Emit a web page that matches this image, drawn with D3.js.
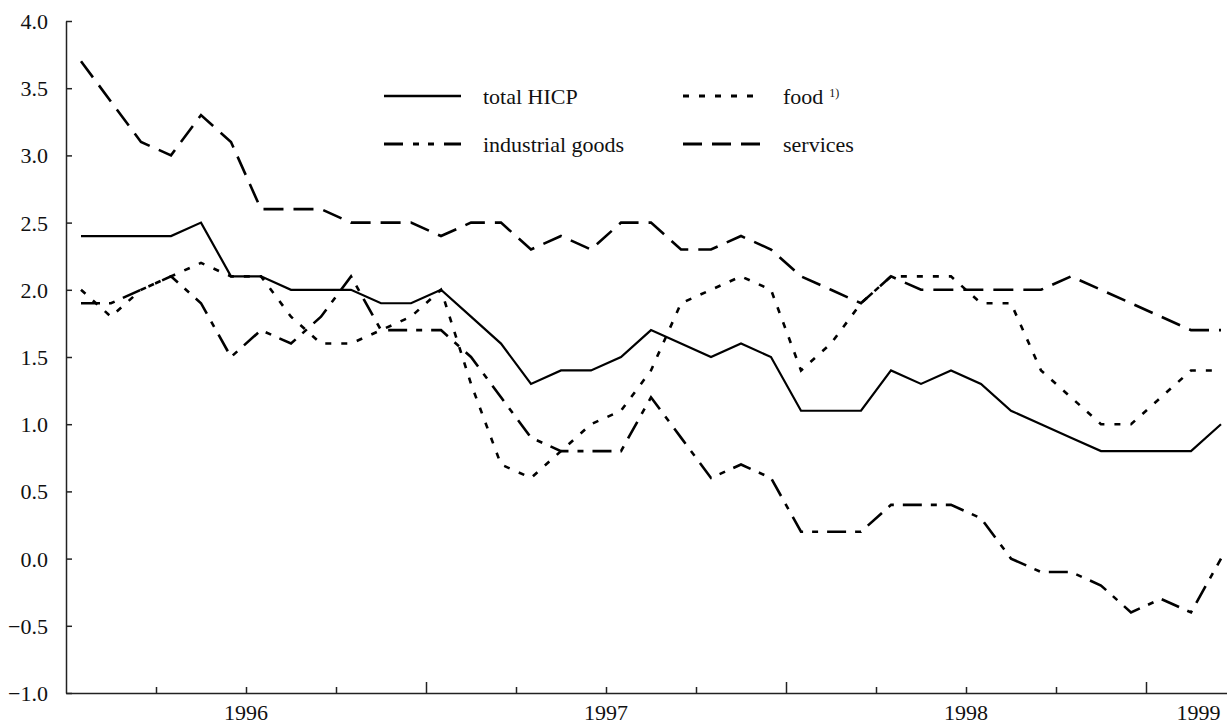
<!DOCTYPE html>
<html>
<head>
<meta charset="utf-8">
<script src="https://cdn.jsdelivr.net/npm/d3@7"></script>
<style>
  body { margin: 0; background: #fff; }
  svg { display: block; }
</style>
</head>
<body>
<div id="chart"></div>
<script>
// HICP components, annual % change, monthly Jan 1996 - Mar 1999
var totalHICP = [2.4,2.4,2.4,2.4,2.5,2.1,2.1,2.0,2.0,2.0,1.9,1.9,
                 2.0,1.8,1.6,1.3,1.4,1.4,1.5,1.7,1.6,1.5,1.6,1.5,
                 1.1,1.1,1.1,1.4,1.3,1.4,1.3,1.1,1.0,0.9,0.8,0.8,
                 0.8,0.8,1.0];
var food = [2.0,1.8,2.0,2.1,2.2,2.1,2.1,1.8,1.6,1.6,1.7,1.8,
            2.0,1.3,0.7,0.6,0.8,1.0,1.1,1.4,1.9,2.0,2.1,2.0,
            1.4,1.6,1.9,2.1,2.1,2.1,1.9,1.9,1.4,1.2,1.0,1.0,
            1.2,1.4,1.4];
var industrialGoods = [1.9,1.9,2.0,2.1,1.9,1.5,1.7,1.6,1.8,2.1,1.7,1.7,
                       1.7,1.5,1.2,0.9,0.8,0.8,0.8,1.2,0.9,0.6,0.7,0.6,
                       0.2,0.2,0.2,0.4,0.4,0.4,0.3,0.0,-0.1,-0.1,-0.2,-0.4,
                       -0.3,-0.4,0.0];
var services = [3.7,3.4,3.1,3.0,3.3,3.1,2.6,2.6,2.6,2.5,2.5,2.5,
                2.4,2.5,2.5,2.3,2.4,2.3,2.5,2.5,2.3,2.3,2.4,2.3,
                2.1,2.0,1.9,2.1,2.0,2.0,2.0,2.0,2.0,2.1,2.0,1.9,
                1.8,1.7,1.7];

var yearLabels = ["1996","1997","1998","1999"];
var yearLabelMonth = [6, 18, 30, 37.75];     // position, in months from Jan 1996
var yTickValues = [-1.0,-0.5,0.0,0.5,1.0,1.5,2.0,2.5,3.0,3.5,4.0];

var serif = "'Liberation Serif', 'Times New Roman', Times, serif";
var width = 1227, height = 726;
var axisX = 66, axisTop = 21, axisBottom = 693;
var nMonths = 39;

var svg = d3.select("#chart").append("svg")
   .attr("width", width).attr("height", height);

// scales: one slot of 30px per month, points drawn mid-month
var x = d3.scaleLinear().domain([0, nMonths]).range([axisX, axisX + nMonths * 30]);
var y = d3.scaleLinear().domain([-1, 4]).range([axisBottom, axisTop]);

// y axis, ticks pointing inward
var yAxis = d3.axisLeft(y).tickValues(yTickValues)
   .tickSizeInner(-6).tickSizeOuter(0).tickPadding(18)
   .tickFormat(d3.format(".1f"));
var gy = svg.append("g").attr("transform", "translate(" + axisX + ",0)").call(yAxis);
gy.attr("font-family", serif).attr("font-size", 22);
gy.selectAll("path, line").attr("stroke", "#222").attr("stroke-width", 1.5);
gy.selectAll("text").attr("fill", "#111").attr("dy", "0.34em");

// x axis: quarter ticks, taller ticks at year ends
var minorTicks = d3.range(3, nMonths, 3).filter(function(m){ return m % 12 != 0; });
var majorTicks = d3.range(12, nMonths, 12);
var gx = svg.append("g").attr("transform", "translate(0," + axisBottom + ")");
gx.call(d3.axisBottom(x).tickValues(minorTicks).tickSizeInner(-6).tickSizeOuter(0).tickFormat(""));
gx.append("g").call(d3.axisBottom(x).tickValues(majorTicks).tickSizeInner(-11).tickSizeOuter(0).tickFormat(""))
   .select(".domain").remove();
gx.selectAll("path, line").attr("stroke", "#222").attr("stroke-width", 1.5);

svg.selectAll(".year-label").data(yearLabels).enter()
   .append("text").attr("class", "year-label")
   .attr("x", function(d, i){ return x(yearLabelMonth[i]); })
   .attr("y", 720)
   .attr("text-anchor", "middle")
   .attr("font-family", serif).attr("font-size", 22).attr("fill", "#111")
   .text(function(d){ return d; });

// series
var seriesList = [
   {name: "total HICP", values: totalHICP, dash: null, legendDash: null, col: 0, row: 0},
   {name: "food", sup: "1)", values: food, dash: "6,10", legendDash: "6,10", col: 1, row: 0},
   {name: "industrial goods", values: industrialGoods, dash: "19,9,6,9", legendDash: "19,10,6,9,6,10", col: 0, row: 1},
   {name: "services", values: services, dash: "20,10", legendDash: "19,10", col: 1, row: 1}
];

var line = d3.line()
   .x(function(d, i){ return x(i + 0.5); })
   .y(function(d){ return y(d); });

svg.selectAll(".series").data(seriesList).enter()
   .append("path").attr("class", "series")
   .attr("d", function(s){ return line(s.values); })
   .attr("fill", "none")
   .attr("stroke", "#000")
   .attr("stroke-width", function(s){ return s.dash ? 2.6 : 2.2; })
   .attr("stroke-dasharray", function(s){ return s.dash; });

// legend
var legendCol = [384, 683], legendRow = [96, 144];
var lg = svg.selectAll(".legend").data(seriesList).enter()
   .append("g").attr("class", "legend")
   .attr("transform", function(s){ return "translate(" + legendCol[s.col] + "," + legendRow[s.row] + ")"; });
lg.append("line")
   .attr("x1", 0).attr("x2", function(s){ return s.col == 0 ? 77 : 80; })
   .attr("y1", 0).attr("y2", 0)
   .attr("stroke", "#000")
   .attr("stroke-width", function(s){ return s.dash ? 2.8 : 2.3; })
   .attr("stroke-dasharray", function(s){ return s.legendDash; });
var lt = lg.append("text")
   .attr("x", function(s){ return s.col == 0 ? 99 : 100; })
   .attr("y", 0).attr("dy", "0.36em")
   .attr("font-family", serif).attr("font-size", 22).attr("fill", "#111")
   .text(function(s){ return s.name; });
lt.filter(function(s){ return s.sup; })
   .append("tspan").attr("dx", 6).attr("dy", -7).attr("font-size", 12)
   .text(function(s){ return s.sup; });
</script>
</body>
</html>
